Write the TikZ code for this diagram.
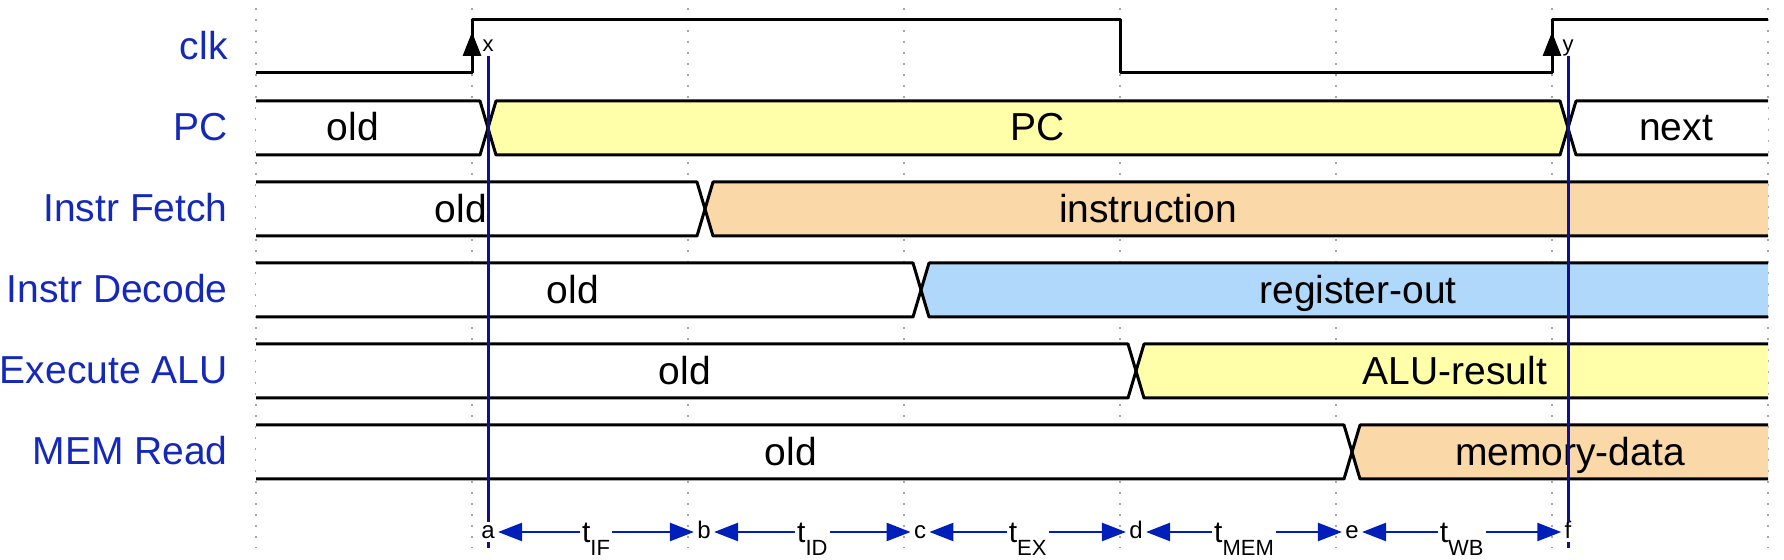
\documentclass[tikz,border=0pt]{standalone}
\usepackage{fontspec}
\setmainfont{Liberation Sans}
\usepackage{tikz}
\usetikzlibrary{arrows.meta, positioning}
\tikzset{>={Triangle[width=9pt,length=12pt]}}
\definecolor{sigblue}{RGB}{20,40,185}
\definecolor{edgeblue}{RGB}{15,15,145}
\definecolor{arrowblue}{RGB}{0,30,185}
\definecolor{pcyellow}{RGB}{255,255,170}
\definecolor{fetchorange}{RGB}{250,216,168}
\definecolor{decodeblue}{RGB}{176,216,250}

\begin{document}
\begin{tikzpicture}[x=0.5pt, y=-0.5pt, signame/.style={anchor=base east, text=sigblue, inner sep=0pt, font=\fontsize{19.5}{22}\selectfont}, valtext/.style={anchor=base, inner sep=0pt, font=\fontsize{19.5}{22}\selectfont}, bus/.style={draw=black, line width=1.5pt, line join=round}, gridline/.style={draw=black!35, line width=1pt, dash pattern=on 1pt off 4.5pt}, evtext/.style={fill=white, inner sep=1.5pt, text height=7pt, text depth=0pt, font=\fontsize{12}{12}\selectfont}, edgename/.style={anchor=base, inner sep=2pt, text depth=0pt, font=\fontsize{11}{11}\selectfont}, period/.style={fill=white, inner sep=1pt, text height=11pt, text depth=0pt, font=\fontsize{15}{15}\selectfont}, timearrow/.style={<->, draw=arrowblue, fill=arrowblue, line width=1.2pt}, edgeline/.style={draw=edgeblue, line width=1.5pt}]

    \useasboundingbox (0,0) rectangle (1784,560);

    %Grid
    \foreach \g in {0,...,7}
        \draw[gridline] (256+216*\g,8) -- (256+216*\g,548);

    %Clock
    \draw[bus] (256,73) -- (472,73) -- (472,20) -- (1120,20) -- (1120,73) -- (1552,73) -- (1552,20) -- (1768,20);
    \foreach \e in {472,1552}
        \draw[->, line width=1.5pt] (\e,62) -- (\e,32);

    %PC bus
    \fill[white] (256,101) -- (480,101) -- (488,128) -- (480,155) -- (256,155) -- cycle;
    \fill[pcyellow] (488,128) -- (496,101) -- (1560,101) -- (1568,128) -- (1560,155) -- (496,155) -- cycle;
    \fill[white] (1568,128) -- (1576,101) -- (1768,101) -- (1768,155) -- (1576,155) -- cycle;
    \draw[bus] (256,101) -- (480,101) -- (496,155) -- (1560,155) -- (1576,101) -- (1768,101);
    \draw[bus] (256,155) -- (480,155) -- (496,101) -- (1560,101) -- (1576,155) -- (1768,155);
    \node[valtext](old1) at (353,141) {old};
    \node[valtext](val1) at (1038,141) {PC};
    \node[valtext](next1) at (1676,141) {next};

    %Stage buses
    \foreach \r/\t/\ox/\nx/\val/\col in {2/705/461/1148/instruction/fetchorange, 3/921/573/1358/register-out/decodeblue, 4/1136/685/1455/ALU-result/pcyellow, 5/1352/791/1570/memory-data/fetchorange}{
        \pgfmathsetmacro{\ya}{101+81*(\r-1)}
        \pgfmathsetmacro{\ym}{\ya+27}
        \pgfmathsetmacro{\yb}{\ya+54}
        \fill[white] (256,\ya) -- (\t-8,\ya) -- (\t,\ym) -- (\t-8,\yb) -- (256,\yb) -- cycle;
        \fill[\col] (\t,\ym) -- (\t+8,\ya) -- (1768,\ya) -- (1768,\yb) -- (\t+8,\yb) -- cycle;
        \draw[bus] (256,\ya) -- (\t-8,\ya) -- (\t+8,\yb) -- (1768,\yb);
        \draw[bus] (256,\yb) -- (\t-8,\yb) -- (\t+8,\ya) -- (1768,\ya);
        \node[valtext](old\r) at (\ox,\ym+13.5) {old};
        \node[valtext](val\r) at (\nx,\ym+13.5) {\val};
    }

    %Signal names
    \foreach \r/\name in {0/clk, 1/PC, 2/Instr Fetch, 3/Instr Decode, 4/Execute ALU, 5/MEM Read}
        \node[signame](sig\r) at (228,60+81*\r) {\name};

    %Edges
    \node[edgename](edgex) at (488,52) {x};
    \node[edgename](edgey) at (1568,52) {y};
    \foreach \l [count=\k from 0] in {a,b,c,d,e,f}
        \node[evtext](\l) at (488+216*\k,532) {\l};
    \coordinate (abot) at (488,548);
    \coordinate (fbot) at (1568,548);

    %Lines
    \draw[edgeline] (edgex.south) -- (a.north);
    \draw[edgeline] (a.south) -- (abot);
    \draw[edgeline] (edgey.south) -- (f.north);
    \draw[edgeline] (f.south) -- (fbot);
    \foreach \p/\q/\s in {a/b/IF, b/c/ID, c/d/EX, d/e/MEM, e/f/WB}
        \draw[timearrow] (\p) -- node[period]{t\raisebox{-6.5pt}{\fontsize{11}{11}\selectfont\s}} (\q);

\end{tikzpicture}
\end{document}
